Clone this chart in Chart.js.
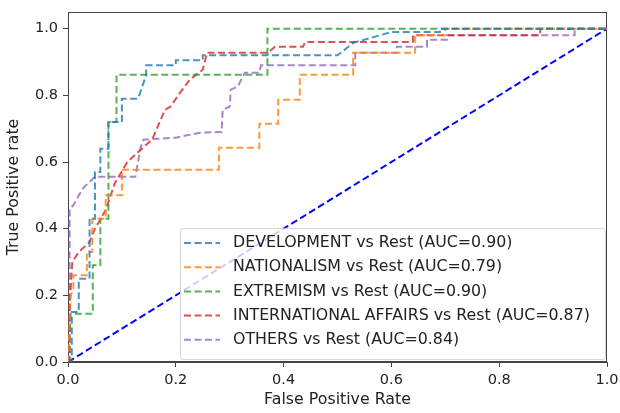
<!DOCTYPE html>
<html>
<head>
<meta charset="utf-8">
<script src="https://cdn.jsdelivr.net/npm/chart.js@4.4.1/dist/chart.umd.min.js"></script>
<style>
  html, body { margin: 0; padding: 0; background: #fff; }
  #wrap { width: 620px; height: 413px; }
</style>
</head>
<body>
<div id="wrap"><canvas id="roc" width="620" height="413"></canvas></div>
<script>
// ---------- data ----------
const classNames = ["DEVELOPMENT", "NATIONALISM", "EXTREMISM", "INTERNATIONAL AFFAIRS", "OTHERS"];
const aucValues = [0.90, 0.79, 0.90, 0.87, 0.84];
const lineColors = ["rgba(31,119,180,0.8)", "rgba(255,127,14,0.8)", "rgba(44,160,44,0.8)", "rgba(214,39,40,0.8)", "rgba(148,103,189,0.8)"];

const fprDevelopment = [0, 0.007, 0.007, 0.02, 0.02, 0.04, 0.04, 0.05, 0.05, 0.06, 0.06, 0.075, 0.075, 0.1, 0.1, 0.13, 0.145, 0.145, 0.2, 0.2, 0.25, 0.25, 0.5, 0.53, 0.6, 0.69, 0.69, 1];
const tprDevelopment = [0, 0, 0.15, 0.15, 0.25, 0.25, 0.43, 0.43, 0.57, 0.57, 0.64, 0.64, 0.72, 0.72, 0.79, 0.79, 0.86, 0.89, 0.89, 0.905, 0.905, 0.92, 0.92, 0.958, 0.99, 0.99, 1, 1];

const fprNationalism = [0, 0.005, 0.01, 0.01, 0.035, 0.035, 0.045, 0.045, 0.07, 0.07, 0.1, 0.1, 0.28, 0.28, 0.355, 0.355, 0.39, 0.39, 0.43, 0.43, 0.529, 0.529, 0.644, 0.644, 0.7, 0.7, 1];
const tprNationalism = [0, 0.2, 0.22, 0.26, 0.26, 0.33, 0.33, 0.43, 0.43, 0.5, 0.5, 0.577, 0.577, 0.643, 0.643, 0.715, 0.715, 0.787, 0.787, 0.862, 0.862, 0.928, 0.928, 0.98, 0.98, 1, 1];

const fprExtremism = [0, 0.005, 0.046, 0.046, 0.06, 0.06, 0.075, 0.075, 0.09, 0.09, 0.37, 0.37, 1];
const tprExtremism = [0, 0.145, 0.145, 0.29, 0.29, 0.43, 0.43, 0.72, 0.72, 0.862, 0.862, 1, 1];

const fprInternational = [0, 0.003, 0.003, 0.008, 0.02, 0.04, 0.05, 0.07, 0.087, 0.11, 0.137, 0.156, 0.18, 0.19, 0.208, 0.226, 0.25, 0.258, 0.371, 0.384, 0.436, 0.44, 0.64, 0.64, 0.876, 0.876, 1];
const tprInternational = [0, 0, 0.17, 0.3, 0.33, 0.36, 0.4, 0.456, 0.537, 0.6, 0.64, 0.667, 0.757, 0.766, 0.808, 0.847, 0.877, 0.928, 0.928, 0.946, 0.946, 0.96, 0.96, 0.98, 0.98, 1, 1];

const fprOthers = [0, 0.003, 0.003, 0.01, 0.02, 0.03, 0.04, 0.05, 0.125, 0.135, 0.14, 0.2, 0.245, 0.285, 0.287, 0.3, 0.302, 0.315, 0.328, 0.355, 0.358, 0.533, 0.533, 0.61, 0.61, 0.666, 0.666, 0.703, 0.703, 0.94, 0.94, 1];
const tprOthers = [0, 0, 0.46, 0.47, 0.5, 0.525, 0.54, 0.556, 0.556, 0.645, 0.667, 0.673, 0.688, 0.69, 0.757, 0.766, 0.817, 0.826, 0.868, 0.868, 0.89, 0.89, 0.928, 0.928, 0.946, 0.946, 0.967, 0.967, 0.98, 0.98, 1, 1];

const fprChance = [0, 1];
const tprChance = [0, 1];

const tickValues = [0, 0.2, 0.4, 0.6, 0.8, 1.0];

const curves = [
  [fprDevelopment, tprDevelopment],
  [fprNationalism, tprNationalism],
  [fprExtremism, tprExtremism],
  [fprInternational, tprInternational],
  [fprOthers, tprOthers]
];

function toPoints(xs, ys) { return xs.map((x, i) => ({ x: x, y: ys[i] })); }

const FONT = "'DejaVu Sans', sans-serif";

const datasets = curves.map((c, i) => ({
  label: classNames[i] + " vs Rest (AUC=" + aucValues[i].toFixed(2) + ")",
  data: toPoints(c[0], c[1]),
  borderColor: lineColors[i],
  borderWidth: 2,
  borderDash: [7, 3.5],
  pointRadius: 0,
  tension: 0,
  fill: false
}));
datasets.push({
  label: "chance",
  data: toPoints(fprChance, tprChance),
  borderColor: "#0000ff",
  borderWidth: 2,
  borderDash: [7, 3.5],
  pointRadius: 0,
  fill: false
});

// legend inside the plot, lower right, like matplotlib
const innerLegend = {
  id: "innerLegend",
  afterDraw(chart) {
    const ctx = chart.ctx;
    const x0 = 180, y0 = 228, w = 425, h = 131;
    ctx.save();
    ctx.setLineDash([]);
    ctx.fillStyle = "rgba(255,255,255,0.8)";
    ctx.strokeStyle = "rgba(204,204,204,0.8)";
    ctx.lineWidth = 1;
    ctx.beginPath();
    ctx.roundRect(x0 + 0.5, y0 + 0.5, w, h, 3);
    ctx.fill();
    ctx.stroke();
    ctx.font = "15.8px " + FONT;
    ctx.textBaseline = "middle";
    chart.data.datasets.slice(0, 5).forEach((ds, i) => {
      const yy = y0 + 15 + i * 24.2;
      ctx.strokeStyle = ds.borderColor;
      ctx.lineWidth = 2;
      ctx.setLineDash([7, 3.5]);
      ctx.beginPath();
      ctx.moveTo(184, yy);
      ctx.lineTo(220, yy);
      ctx.stroke();
      ctx.setLineDash([]);
      ctx.fillStyle = "#222";
      ctx.fillText(ds.label, 233, yy);
    });
    ctx.restore();
  }
};

// top and right spines
const frame = {
  id: "frame",
  beforeDatasetsDraw(chart) {
    const a = chart.chartArea, ctx = chart.ctx;
    ctx.save();
    ctx.strokeStyle = "#444";
    ctx.lineWidth = 1;
    ctx.strokeRect(a.left + 0.5, a.top + 0.5, a.right - a.left - 1, a.bottom - a.top - 1);
    ctx.restore();
  }
};

new Chart(document.getElementById("roc"), {
  type: "line",
  data: { datasets },
  options: {
    responsive: false,
    animation: false,
    layout: { padding: { top: 12, right: 13, left: 0, bottom: 0 } },
    plugins: { legend: { display: false }, tooltip: { enabled: false } },
    scales: {
      x: {
        type: "linear",
        min: 0, max: 1,
        afterFit: s => { s.height = 51; s.paddingLeft = 0; s.paddingRight = 0; },
        afterBuildTicks: s => { s.ticks = tickValues.map(v => ({ value: v })); },
        ticks: { callback: v => v.toFixed(1), color: "#222", font: { family: FONT, size: 14.5 }, padding: 5, maxRotation: 0 },
        grid: { drawOnChartArea: false, drawTicks: true, tickLength: 5, color: "#444" },
        border: { display: true, color: "#444" },
        title: { display: true, text: "False Positive Rate", color: "#222", font: { family: FONT, size: 15.8 }, padding: { top: 0 } }
      },
      y: {
        type: "linear",
        min: 0, max: 1.05,
        afterFit: s => { s.width = 68; s.paddingTop = 0; s.paddingBottom = 0; },
        afterBuildTicks: s => { s.ticks = tickValues.map(v => ({ value: v })); },
        ticks: { callback: v => v.toFixed(1), color: "#222", font: { family: FONT, size: 14.5 }, padding: 5 },
        grid: { drawOnChartArea: false, drawTicks: true, tickLength: 5, color: "#444" },
        border: { display: true, color: "#444" },
        title: { display: true, text: "True Positive rate", color: "#222", font: { family: FONT, size: 15.8 }, padding: { bottom: 2 } }
      }
    }
  },
  plugins: [frame, innerLegend]
});
</script>
</body>
</html>
